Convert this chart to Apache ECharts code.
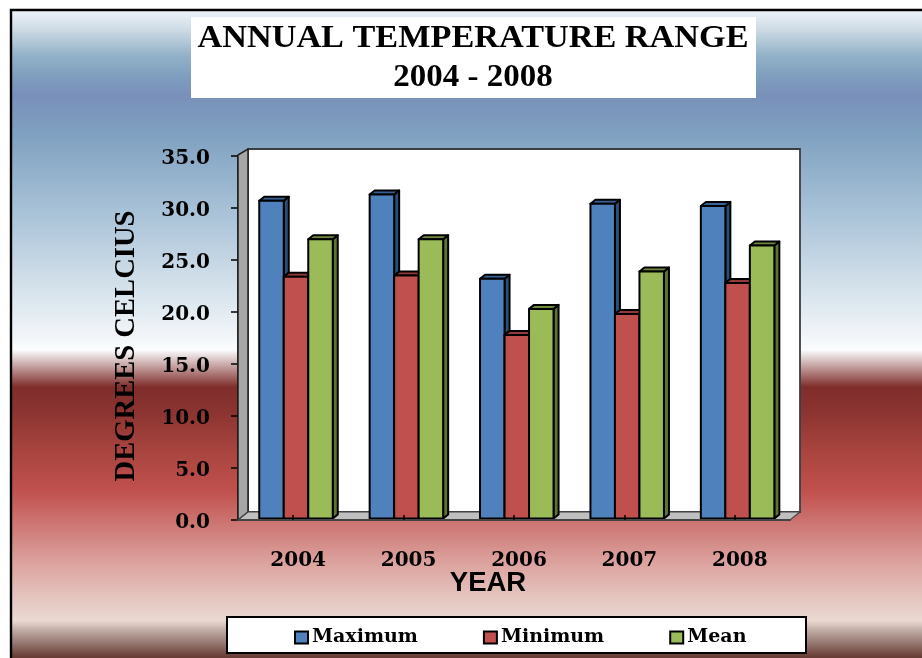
<!DOCTYPE html>
<html><head><meta charset="utf-8">
<style>html,body{margin:0;padding:0;background:#fff}#c{width:922px;height:658px}</style>
<script src="https://cdn.jsdelivr.net/npm/echarts@6/dist/echarts.min.js"></script></head>
<body><div id="c"></div>
<script>
const categories = ['2004','2005','2006','2007','2008'];
const maximum = [30.7,31.3,23.2,30.4,30.2];
const minimum = [23.4,23.5,17.8,19.8,22.8];
const mean = [27.0,27.0,20.3,23.9,26.4];
const seriesNames = ['Maximum','Minimum','Mean'];
const fronts = ['#4f81bd','#c0504d','#9bbb59'];
const tops = ['#3a6196','#93393a','#6f8a3c'];
const sides = ['#2c4d78','#8c3331','#5d7530'];
const chart = echarts.init(document.getElementById('c'));
const serif = '"DejaVu Serif"';
const render = idx => (params, api) => {
  const cat = api.value(0), v = api.value(1);
  const w = 24.5, dx = 5, dy = 4;
  const cx = api.coord([cat, 0])[0] + 2.8;
  const x = cx + (idx - 1.5) * w;
  const y0 = api.coord([cat, 0])[1] - 1.5;
  const y = api.coord([cat, v])[1];
  const st = c => ({fill: c, stroke: '#000', lineWidth: 2, lineJoin: 'round'});
  return {type: 'group', children: [
    {type: 'polygon', shape: {points: [[x+w,y],[x+w+dx,y-dy],[x+w+dx,y0-dy],[x+w,y0]]}, style: st(sides[idx])},
    {type: 'polygon', shape: {points: [[x,y],[x+dx,y-dy],[x+w+dx,y-dy],[x+w,y]]}, style: st(tops[idx])},
    {type: 'rect', shape: {x, y, width: w, height: y0 - y}, style: st(fronts[idx])}
  ]};
};
const mk = (name, data, idx) => ({
  type: 'custom', name, renderItem: render(idx), z: 5,
  itemStyle: {color: fronts[idx], borderColor: '#000', borderWidth: 2},
  encode: {x: 0, y: 1},
  data: data.map((v, i) => [i, v])
});
chart.setOption({
  animation: false,
  title: {show: false},
  graphic: [
    {type: 'rect', z: 0, shape: {x: 11, y: 10, width: 920, height: 660},
      style: {stroke: '#000', lineWidth: 2.4, fill: {type: 'linear', x: 0, y: 0, x2: 0, y2: 1, colorStops: [
        [0,'#f0f4fa'],[0.03,'#cfdce6'],[0.07,'#93b2c8'],[0.10,'#7f9fbe'],[0.13,'#7990ba'],[0.19,'#7fa1c0'],[0.30,'#a6c0d6'],[0.43,'#d8e4ed'],[0.50,'#f4f7fa'],[0.515,'#fbfcfd'],[0.571,'#7f2d2b'],[0.606,'#8a3330'],[0.667,'#a8443f'],[0.727,'#c0504d'],[0.833,'#dba09c'],[0.894,'#e6c8c2'],[0.924,'#ead9d2'],[0.935,'#c8b5ae'],[0.955,'#9b7f78'],[0.977,'#6b4038'],[1,'#4a2a26']
      ].map(s => ({offset: s[0], color: s[1]}))}}},
    {type: 'rect', z: 1, shape: {x: 191, y: 17, width: 565, height: 81}, style: {fill: '#fff'}},
    {type: 'text', z: 2, x: 473, y: 39, scaleX: 1.07, style: {x: 0, y: 0, text: 'ANNUAL TEMPERATURE RANGE', font: 'bold 32px "Liberation Serif"', fill: '#000', align: 'center', verticalAlign: 'middle'}},
    {type: 'text', z: 2, x: 473, y: 78, scaleX: 1.03, style: {x: 0, y: 0, text: '2004 - 2008', font: 'bold 32px "Liberation Serif"', fill: '#000', align: 'center', verticalAlign: 'middle'}},
    {type: 'polygon', z: 1, shape: {points: [[248,149],[800,149],[800,512],[248,512]]}, style: {fill: '#fff', stroke: '#3a3f44', lineWidth: 1.8}},
    {type: 'polygon', z: 1, shape: {points: [[238,155],[248,149],[248,512],[238,520]]}, style: {fill: '#a6a6a6', stroke: '#222', lineWidth: 1.5}},
    {type: 'polygon', z: 1, shape: {points: [[238,520],[248,512],[800,512],[790,520]]}, style: {fill: '#bfbfbf', stroke: '#444', lineWidth: 1.2}},
    {type: 'rect', z: 1, shape: {x: 227, y: 617, width: 579, height: 36}, style: {fill: '#fff', stroke: '#000', lineWidth: 2}}
  ],
  grid: {left: 238, top: 156, width: 552, height: 364, containLabel: false},
  xAxis: {type: 'category', data: categories, name: 'YEAR', nameLocation: 'middle', nameGap: 49, nameMoveOverlap: false, z: 6,
    nameTextStyle: {fontFamily: 'Liberation Sans', fontWeight: 'bold', fontSize: 27.5, color: '#000', padding: [0,52,0,0]},
    axisLine: {lineStyle: {color: '#444', width: 2}},
    axisTick: {show: true, alignWithLabel: true, length: 5, inside: true, lineStyle: {color: '#000', width: 1.5}},
    axisLabel: {fontFamily: serif, fontWeight: 'bold', fontSize: 20, color: '#000', margin: 29, padding: [2,0,0,10]}},
  yAxis: {type: 'value', min: 0, max: 35, interval: 5, name: 'DEGREES CELCIUS', nameLocation: 'middle', nameGap: 97, nameMoveOverlap: false,
    nameTextStyle: {fontFamily: 'Liberation Serif', fontWeight: 'bold', fontSize: 28.6, color: '#000', padding: [0,16,0,0]},
    splitLine: {show: false},
    axisLine: {show: true, lineStyle: {color: '#000', width: 1.6}},
    axisTick: {show: true, length: 7, lineStyle: {color: '#000', width: 1.5}},
    axisLabel: {fontFamily: serif, fontWeight: 'bold', fontSize: 20, color: '#000', margin: 28, lineHeight: 6, verticalAlign: 'top', formatter: v => v.toFixed(1)}},
  legend: {left: 294, top: 628, itemWidth: 13, itemHeight: 12, itemGap: 65, padding: 0, z: 6,
    data: seriesNames, icon: 'rect',
    textStyle: {fontFamily: serif, fontWeight: 'bold', fontSize: 19, color: '#000', padding: [0,0,0,-1]}},
  series: [mk(seriesNames[0], maximum, 0), mk(seriesNames[1], minimum, 1), mk(seriesNames[2], mean, 2)]
});
</script></body></html>
